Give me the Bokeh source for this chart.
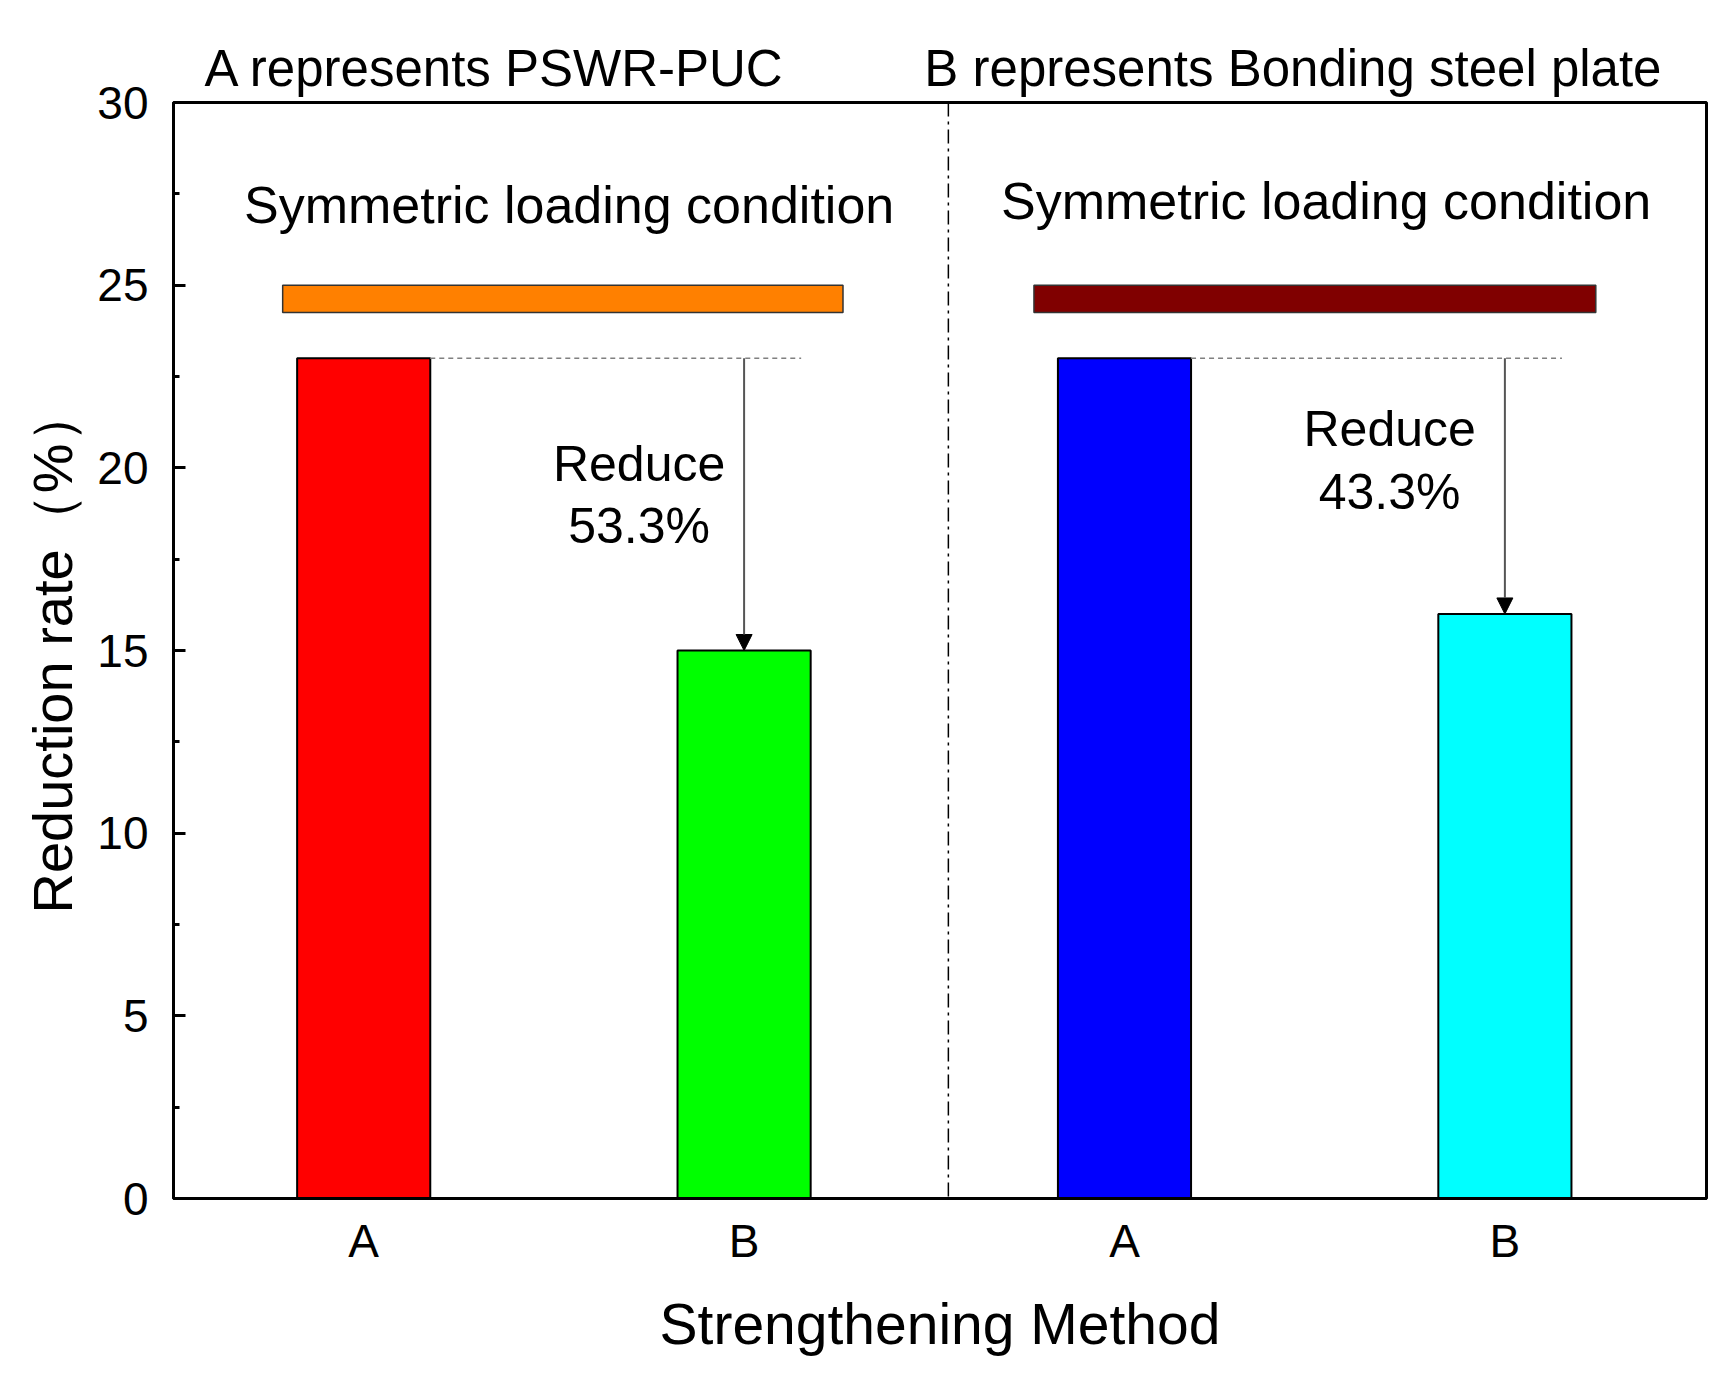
from bokeh.plotting import figure
from bokeh.models import FixedTicker, Arrow, NormalHead, Span, Title
from bokeh.embed import file_html
from bokeh.resources import INLINE
from bokeh.core.properties import value

# ---- data ----
methods = ["A", "B", "A", "B"]
reduction_rate = [23, 15, 23, 16]
bar_colors = ["#FF0000", "#00FF00", "#0000FF", "#00FFFF"]
group_titles = ["A represents PSWR-PUC", "B represents Bonding steel plate"]
condition_texts = ["Symmetric loading condition", "Symmetric loading condition"]
band_colors = ["#FF8000", "#800000"]
band_top = [25, 25]
band_bottom = [24.25, 24.25]
reduce_words = ["Reduce", "Reduce"]
reduce_pcts = ["53.3%", "43.3%"]
y_ticks = [0, 5, 10, 15, 20, 25, 30]
pairs = [(0, 1), (2, 3)]

# ---- layout-only placements ----
reduce_x_shift = [0.276, 0.303]
reduce_word_y = [20.1, 21.06]
reduce_pct_y = [18.4, 19.35]

FONT = "Liberation Sans"
xpos = [i + 1 for i in range(len(methods))]

p = figure(width=1716, height=1376, x_range=(0.5, 4.53), y_range=(0, 30),
           output_backend="svg", toolbar_location=None,
           min_border_left=173, min_border_right=10, min_border_top=102, min_border_bottom=178)
p.background_fill_color = "white"
p.border_fill_color = "white"
p.xgrid.visible = False
p.ygrid.visible = False
p.outline_line_color = "black"
p.outline_line_width = 3

# top captions (one title line, two captions separated by spaces)
title = Title(text=("\u00a0" * 10).join(group_titles), align="left", offset=31,
              text_font=FONT, text_font_size="51px", text_font_style="normal",
              text_color="black", standoff=12)
p.add_layout(title, "above")

# bars
p.vbar(x=xpos, top=reduction_rate, bottom=0, width=0.35, fill_color=bar_colors,
       line_color="black", line_width=2)

# bands
p.quad(left=[0.787, 2.762], right=[2.26, 4.239], bottom=band_bottom, top=band_top,
       fill_color=band_colors, line_color="#333333", line_width=1.5)

# divider
p.add_layout(Span(location=2.537, dimension="height", line_color="black",
                  line_width=1.5, line_dash="14 5 3 5"))

# dashed reference lines, arrows and reduction labels
for i, (a, b) in enumerate(pairs):
    p.segment(x0=[xpos[a] + 0.175], y0=[reduction_rate[a]], x1=[xpos[b] + 0.15],
              y1=[reduction_rate[a]], line_color="#808080", line_width=1.5, line_dash="5 4")
    p.add_layout(Arrow(end=NormalHead(size=16, fill_color="black", line_color="black"),
                       x_start=xpos[b], y_start=reduction_rate[a], x_end=xpos[b],
                       y_end=reduction_rate[b], line_color="#555555", line_width=2))
    p.text(x=[xpos[b] - reduce_x_shift[i]], y=[reduce_word_y[i]], text=[reduce_words[i]],
           text_align="center", text_baseline="middle", text_font=value(FONT),
           text_font_size="50px", text_color="black")
    p.text(x=[xpos[b] - reduce_x_shift[i]], y=[reduce_pct_y[i]], text=[reduce_pcts[i]],
           text_align="center", text_baseline="middle", text_font=value(FONT),
           text_font_size="50px", text_color="black")

# condition texts
p.text(x=[1.54, 3.53], y=[27.2, 27.3], text=condition_texts, text_align="center",
       text_baseline="middle", text_font=value(FONT), text_font_size="52px", text_color="black")

# axes
for ax in (p.xaxis[0], p.yaxis[0]):
    ax.axis_line_width = 3
    ax.axis_line_color = "black"
    ax.major_label_text_font = FONT
    ax.major_label_text_font_size = "46px"
    ax.major_label_text_color = "black"
    ax.axis_label_text_font = FONT
    ax.axis_label_text_font_style = "normal"
    ax.axis_label_text_color = "black"

p.xaxis.ticker = FixedTicker(ticks=xpos)
p.xaxis.major_label_overrides = {x: m for x, m in zip(xpos, methods)}
p.xaxis.major_tick_line_color = None
p.xaxis.minor_tick_line_color = None
p.xaxis.major_tick_in = 0
p.xaxis.major_tick_out = 0
p.xaxis.major_label_standoff = 16
p.xaxis.axis_label = "Strengthening Method"
p.xaxis.axis_label_text_font_size = "57px"
p.xaxis.axis_label_standoff = 22

minor = [(y_ticks[i] + y_ticks[i + 1]) / 2 for i in range(len(y_ticks) - 1)]
p.yaxis.ticker = FixedTicker(ticks=y_ticks, minor_ticks=minor)
p.yaxis.major_tick_in = 12
p.yaxis.major_tick_out = 0
p.yaxis.minor_tick_in = 6
p.yaxis.minor_tick_out = 0
p.yaxis.major_tick_line_width = 3
p.yaxis.minor_tick_line_width = 3
p.yaxis.major_label_standoff = 25
p.yaxis.axis_label = "Reduction rate（%）"
p.yaxis.axis_label_text_font_size = "56px"
p.yaxis.axis_label_standoff = 10

open("out.html", "w").write(file_html(p, INLINE))
